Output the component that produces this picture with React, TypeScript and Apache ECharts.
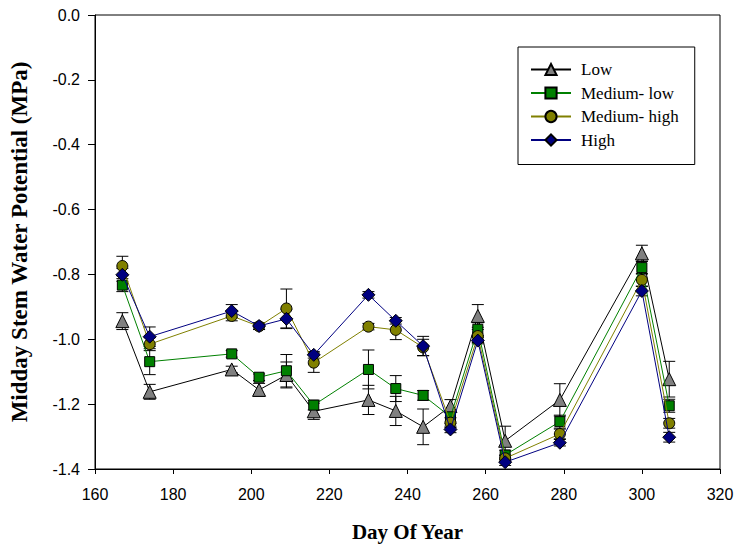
import React, { useEffect, useRef } from "react";
import * as echarts from "echarts";

const days = [167, 174, 195, 202, 209, 216, 230, 237, 244, 251, 258, 265, 279, 300, 307];

const lowValues = [-0.944, -1.162, -1.093, -1.156, -1.11, -1.222, -1.187, -1.221, -1.27, -1.206, -0.928, -1.313, -1.187, -0.735, -1.123];
const lowErrors = [0.026, 0.023, 0.01, 0.02, 0.04, 0.025, 0.045, 0.045, 0.055, 0.02, 0.035, 0.045, 0.05, 0.025, 0.055];

const medLowValues = [-0.833, -1.069, -1.045, -1.117, -1.097, -1.203, -1.093, -1.152, -1.173, -1.239, -0.969, -1.357, -1.254, -0.779, -1.205];
const medLowErrors = [0.02, 0.04, 0.01, 0.01, 0.05, 0.015, 0.06, 0.04, 0.015, 0.02, 0.02, 0.015, 0.02, 0.02, 0.02];

const medHighValues = [-0.774, -1.015, -0.928, -0.96, -0.905, -1.072, -0.961, -0.971, -1.025, -1.257, -0.99, -1.367, -1.292, -0.817, -1.259];
const medHighErrors = [0.03, 0.02, 0.015, 0.01, 0.06, 0.03, 0.01, 0.03, 0.025, 0.015, 0.02, 0.01, 0.015, 0.02, 0.015];

const highValues = [-0.801, -0.992, -0.913, -0.959, -0.937, -1.048, -0.863, -0.943, -1.021, -1.278, -1.004, -1.379, -1.319, -0.851, -1.302];
const highErrors = [0.02, 0.03, 0.02, 0.01, 0.03, 0.01, 0.01, 0.01, 0.03, 0.01, 0.01, 0.01, 0.01, 0.015, 0.015];

const seriesNames = ["Low", "Medium- low", "Medium- high", "High"];
const xTicks = { min: 160, max: 320, interval: 20 };
const yTicks = { min: -1.4, max: 0, interval: 0.2 };

const groups = [
  { name: seriesNames[0], values: lowValues, errors: lowErrors, line: "#000000", fill: "#808080", symbol: "triangle", size: 13 },
  { name: seriesNames[1], values: medLowValues, errors: medLowErrors, line: "#008000", fill: "#008000", symbol: "rect", size: 10 },
  { name: seriesNames[2], values: medHighValues, errors: medHighErrors, line: "#808000", fill: "#808000", symbol: "circle", size: 11 },
  { name: seriesNames[3], values: highValues, errors: highErrors, line: "#000080", fill: "#000080", symbol: "diamond", size: 13 },
];

export default function App() {
  const ref = useRef<HTMLDivElement>(null);
  useEffect(() => {
    if (!ref.current) return;
    const chart = echarts.init(ref.current, undefined, { renderer: "svg" });
    const series: any[] = [];
    groups.forEach((g, gi) => {
      series.push({
        type: "custom",
        name: g.name + "-err",
        z: 1 + gi,
        data: days.map((d, i) => [d, g.values[i], g.errors[i]]),
        encode: { x: 0, y: 1 },
        renderItem: (params: any, api: any) => {
          const x = api.value(0);
          const y = api.value(1);
          const e = api.value(2);
          const top = api.coord([x, y + e]);
          const bot = api.coord([x, y - e]);
          const w = 6;
          const st = { stroke: "#000", lineWidth: 1 };
          return {
            type: "group",
            children: [
              { type: "line", shape: { x1: top[0], y1: top[1], x2: bot[0], y2: bot[1] }, style: st },
              { type: "line", shape: { x1: top[0] - w, y1: top[1], x2: top[0] + w, y2: top[1] }, style: st },
              { type: "line", shape: { x1: bot[0] - w, y1: bot[1], x2: bot[0] + w, y2: bot[1] }, style: st },
            ],
          };
        },
      });
    });
    groups.forEach((g, gi) => {
      series.push({
        type: "line",
        name: g.name,
        z: 10 + gi,
        data: days.map((d, i) => [d, g.values[i]]),
        symbol: g.symbol,
        symbolSize: g.size,
        showAllSymbol: true,
        lineStyle: { color: g.line, width: 1 },
        itemStyle: { color: g.fill, borderColor: "#000", borderWidth: 1 },
      });
    });
    chart.setOption({
      animation: false,
      backgroundColor: "#fff",
      grid: { left: 95, right: 18, top: 15, bottom: 78, show: true, borderColor: "#000", borderWidth: 1 },
      legend: {
        data: seriesNames,
        orient: "vertical",
        left: 518,
        top: 47,
        padding: [14, 16, 16, 12],
        itemGap: 6.5,
        itemWidth: 40,
        itemHeight: 14,
        backgroundColor: "#fff",
        borderColor: "#000",
        borderWidth: 1,
        textStyle: { fontFamily: "Liberation Serif", fontSize: 17, color: "#000", padding: [0, 0, 0, 5] },
      },
      xAxis: {
        type: "value",
        min: xTicks.min,
        max: xTicks.max,
        interval: xTicks.interval,
        name: "Day Of Year",
        nameLocation: "middle",
        nameGap: 52,
        nameTextStyle: { fontFamily: "Liberation Serif", fontWeight: "bold", fontSize: 21, color: "#000" },
        axisLine: { onZero: false, lineStyle: { color: "#000" } },
        axisTick: { inside: false, length: 5, lineStyle: { color: "#000" } },
        axisLabel: { fontFamily: "Liberation Sans", fontSize: 16, color: "#000", margin: 17 },
        splitLine: { show: false },
      },
      yAxis: {
        type: "value",
        min: yTicks.min,
        max: yTicks.max,
        interval: yTicks.interval,
        name: "Midday Stem Water Potential (MPa)",
        nameLocation: "middle",
        nameGap: 64,
        nameRotate: 90,
        nameTextStyle: { fontFamily: "Liberation Serif", fontWeight: "bold", fontSize: 23, color: "#000" },
        axisLine: { onZero: false, lineStyle: { color: "#000" } },
        axisTick: { inside: false, length: 7, lineStyle: { color: "#000" } },
        axisLabel: {
          fontFamily: "Liberation Sans",
          fontSize: 16,
          color: "#000",
          margin: 15,
          formatter: (v: number) => v.toFixed(1),
        },
        splitLine: { show: false },
      },
      series,
    });
    return () => chart.dispose();
  }, []);
  return <div ref={ref} style={{ position: "fixed", left: 0, top: 0, width: 738, height: 547 }} />;
}
